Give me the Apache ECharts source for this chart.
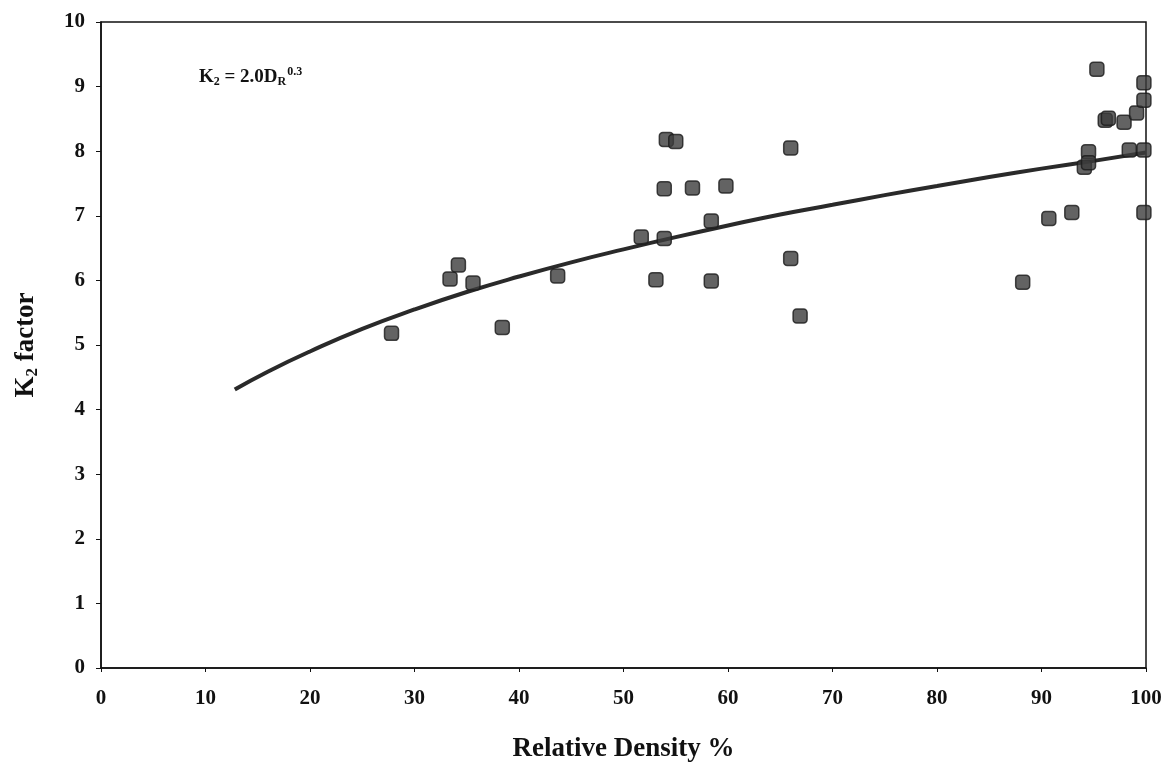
<!DOCTYPE html>
<html>
<head>
<meta charset="utf-8">
<script src="https://cdn.jsdelivr.net/npm/echarts@6/dist/echarts.min.js"></script>
<style>html,body{margin:0;padding:0;background:#fff}#c{width:1165px;height:765px}</style>
</head>
<body>
<div id="c"></div>
<script>
// Relative density (%) of measured points
const densityX = [27.8, 33.4, 34.2, 35.6, 38.4, 43.7, 51.7, 53.1, 53.9, 53.9, 54.1, 55.0, 56.6, 58.4, 58.4, 59.8,
  66.0, 66.0, 66.9, 88.2, 90.7, 92.9, 94.1, 94.5, 94.5, 95.3, 96.1, 96.4, 97.9, 98.4, 99.1, 99.8, 99.8, 99.8, 99.8];
// K2 factor of measured points
const k2Y = [5.18, 6.02, 6.24, 5.96, 5.27, 6.07, 6.67, 6.01, 7.42, 6.65, 8.18, 8.15, 7.43, 6.92, 5.99, 7.46,
  8.05, 6.34, 5.45, 5.97, 6.96, 7.05, 7.75, 7.99, 7.82, 9.27, 8.48, 8.51, 8.45, 8.02, 8.59, 8.02, 7.05, 8.79, 9.06];
// Fitted curve
const curveX = [12.8, 16, 20, 25, 30, 35, 40, 45, 50, 55, 60, 65, 70, 75, 80, 85, 90, 95, 100];
const curveY = [4.31, 4.59, 4.90, 5.25, 5.55, 5.82, 6.06, 6.28, 6.48, 6.67, 6.85, 7.02, 7.17, 7.32, 7.46, 7.60, 7.73, 7.85, 7.98];
const xTicks = { min: 0, max: 100, interval: 10 };
const yTicks = { min: 0, max: 10, interval: 1 };

const FONT = '"Liberation Serif", "Times New Roman", serif';
const chart = echarts.init(document.getElementById('c'), null, { renderer: 'canvas' });
chart.setOption({
  backgroundColor: '#fff',
  animation: false,
  grid: { left: 101, right: 19, top: 22, bottom: 97, containLabel: false, outerBoundsMode: 'none',
    show: true, borderColor: '#111', borderWidth: 1.5, backgroundColor: 'transparent' },
  xAxis: {
    type: 'value', min: xTicks.min, max: xTicks.max, interval: xTicks.interval,
    name: 'Relative Density %', nameLocation: 'middle', nameGap: 68,
    nameTextStyle: { fontFamily: FONT, fontWeight: 'bold', fontSize: 27, color: '#111' },
    axisLine: { show: true, lineStyle: { color: '#111', width: 1.5 } },
    axisTick: { show: true, length: 4, inside: false, lineStyle: { color: '#111' } },
    axisLabel: { fontFamily: FONT, fontWeight: 'bold', fontSize: 21, color: '#111', margin: 20 },
    splitLine: { show: false }
  },
  yAxis: {
    type: 'value', min: yTicks.min, max: yTicks.max, interval: yTicks.interval,
    name: '{a|K}{b|2}{a| factor}', nameLocation: 'middle', nameGap: 60, nameRotate: 90,
    nameTextStyle: {
      fontFamily: FONT, fontWeight: 'bold', fontSize: 27, color: '#111',
      rich: {
        a: { fontFamily: FONT, fontWeight: 'bold', fontSize: 27, color: '#111' },
        b: { fontFamily: FONT, fontWeight: 'bold', fontSize: 17, color: '#111', padding: [12, 0, 0, 0] }
      }
    },
    axisLine: { show: true, lineStyle: { color: '#111', width: 1.5 } },
    axisTick: { show: true, length: 5, lineStyle: { color: '#111' } },
    axisLabel: { fontFamily: FONT, fontWeight: 'bold', fontSize: 21, color: '#111', margin: 16 },
    splitLine: { show: false }
  },
  graphic: [{
    type: 'text', left: 199, top: 66,
    style: {
      text: '{m|K}{s|2}{m| = 2.0D}{s|R}{p|0.3}',
      rich: {
        m: { fontFamily: FONT, fontWeight: 'bold', fontSize: 19, fill: '#111' },
        s: { fontFamily: FONT, fontWeight: 'bold', fontSize: 12, fill: '#111', padding: [10, 0, 0, 0] },
        p: { fontFamily: FONT, fontWeight: 'bold', fontSize: 12, fill: '#111', padding: [0, 0, 10, 1] }
      }
    }
  }],
  series: [
    {
      type: 'line', data: curveX.map((x, i) => [x, curveY[i]]), smooth: true, symbol: 'none',
      lineStyle: { color: '#2a2a2a', width: 4 }, z: 2
    },
    {
      type: 'scatter', data: densityX.map((x, i) => [x, k2Y[i]]), symbol: 'roundRect', symbolSize: 14,
      itemStyle: { color: '#3c3c3c', borderColor: '#1a1a1a', borderWidth: 1.5 }, z: 3
    }
  ]
});
</script>
</body>
</html>
